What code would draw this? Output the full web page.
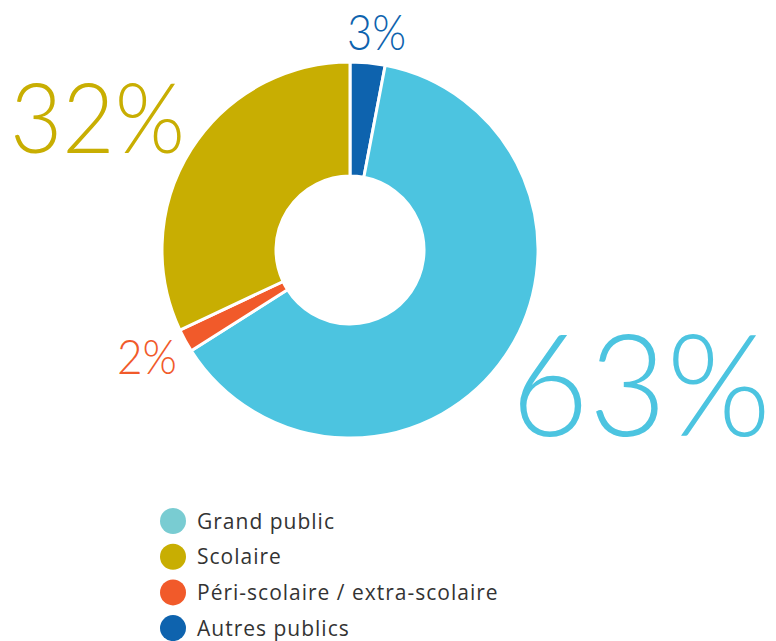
<!DOCTYPE html>
<html>
<head>
<meta charset="utf-8">
<script src="https://cdn.jsdelivr.net/npm/d3@7"></script>
<style>
  body { margin: 0; background: #fff; }
  svg { display: block; }
</style>
</head>
<body>
<div id="chart"></div>
<script>
// slice order follows the pie clockwise from 12 o'clock
let sliceNames = ['Autres publics', 'Grand public', 'Péri-scolaire / extra-scolaire', 'Scolaire']
let sliceValues = [3, 63, 2, 32]
let sliceColors = ['#0e63ae', '#4cc4e0', '#f15a2a', '#c8ae02']

let legendNames = ['Grand public', 'Scolaire', 'Péri-scolaire / extra-scolaire', 'Autres publics']
let legendColors = ['#79ccd2', '#c8ae02', '#f15a2a', '#0e63ae']

let width = 776
let height = 641

let svg = d3
  .select('#chart')
  .append('svg')
  .attr('width', width)
  .attr('height', height)

let cx = 350
let cy = 250
let outerRadius = 188
let innerRadius = 74

let pie = d3
  .pie()
  .sort(null)
  .value(d => d.value)

let arc = d3
  .arc()
  .innerRadius(innerRadius)
  .outerRadius(outerRadius)

let slices = sliceNames.map((name, i) => ({ name: name, value: sliceValues[i], color: sliceColors[i] }))

let g = svg.append('g').attr('transform', 'translate(' + cx + ',' + cy + ')')

g.selectAll('.slice')
  .data(pie(slices))
  .enter()
  .append('path')
  .attr('class', 'slice')
  .attr('d', arc)
  .attr('fill', d => d.data.color)
  .attr('stroke', '#fff')
  .attr('stroke-width', 3)

// big percentage labels, placed by hand like the original
let labelSpots = {
  'Autres publics': { x: 347, y: 50, size: 49, w: 59 },
  'Grand public': { x: 511, y: 436, size: 143, w: 260 },
  'Péri-scolaire / extra-scolaire': { x: 117, y: 374, size: 47, w: 60 },
  'Scolaire': { x: 10, y: 153, size: 97, w: 175 }
}

svg
  .selectAll('.pct')
  .data(slices)
  .enter()
  .append('text')
  .attr('class', 'pct')
  .attr('x', d => labelSpots[d.name].x)
  .attr('y', d => labelSpots[d.name].y)
  .attr('textLength', d => labelSpots[d.name].w)
  .attr('lengthAdjust', 'spacingAndGlyphs')
  .attr('font-family', 'Lato, "Open Sans", sans-serif')
  .attr('font-weight', 300)
  .attr('font-size', d => labelSpots[d.name].size)
  .attr('fill', d => d.color)
  .text(d => d.value + '%')

let legend = svg
  .selectAll('.legend')
  .data(legendNames)
  .enter()
  .append('g')
  .attr('class', 'legend')
  .attr('transform', (d, i) => 'translate(173,' + (521 + i * 35.7) + ')')

legend
  .append('circle')
  .attr('r', 13)
  .attr('fill', (d, i) => legendColors[i])

legend
  .append('text')
  .attr('x', 24)
  .attr('dy', 7.5)
  .attr('font-family', '"Open Sans", sans-serif')
  .attr('font-size', 21)
  .attr('letter-spacing', 1)
  .attr('fill', '#333')
  .text(d => d)
</script>
</body>
</html>
